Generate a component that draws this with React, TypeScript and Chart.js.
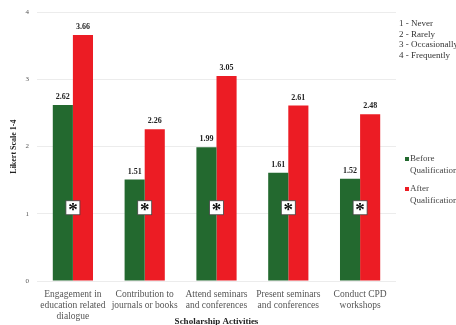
import React, { useEffect, useRef } from "react";
import { Chart, registerables } from "chart.js";

Chart.register(...registerables);

const categories: string[][] = [
  ["Engagement in", "education related", "dialogue"],
  ["Contribution to", "journals or books"],
  ["Attend seminars", "and conferences"],
  ["Present seminars", "and conferences"],
  ["Conduct CPD", "workshops"],
];
const beforeValues = [2.62, 1.51, 1.99, 1.61, 1.52];
const afterValues = [3.66, 2.26, 3.05, 2.61, 2.48];
const scaleNotes = ["1 - Never", "2 - Rarely", "3 - Occasionally", "4 - Frequently"];
const seriesNames = [["Before", "Qualification"], ["After", "Qualification"]];
const markerLevel = 1.09;

const GREEN = "#23692f";
const RED = "#ec1c24";
const SERIF = "'Liberation Serif', 'DejaVu Serif', serif";

const overlay = {
  id: "overlay",
  afterDatasetsDraw(chart: any) {
    const ctx = chart.ctx;
    const x = chart.scales.x;
    const y = chart.scales.y;
    ctx.save();
    // value labels
    ctx.font = `bold 8px ${SERIF}`;
    ctx.fillStyle = "#222";
    ctx.textAlign = "center";
    ctx.textBaseline = "bottom";
    chart.data.datasets.forEach((ds: any, di: number) => {
      const meta = chart.getDatasetMeta(di);
      meta.data.forEach((bar: any, i: number) => {
        ctx.fillText(ds.data[i].toFixed(2), bar.x, bar.y - 4);
      });
    });
    // asterisk boxes
    categories.forEach((_, i) => {
      const cx = x.getPixelForValue(i);
      const cy = y.getPixelForValue(markerLevel);
      ctx.fillStyle = "#ffffff";
      ctx.fillRect(cx - 7, cy - 7, 14, 14);
      ctx.strokeStyle = "#444";
      ctx.lineWidth = 0.8;
      ctx.strokeRect(cx - 7, cy - 7, 14, 14);
      ctx.fillStyle = "#111";
      ctx.font = `bold 19px ${SERIF}`;
      ctx.textAlign = "center";
      ctx.textBaseline = "middle";
      ctx.fillText("*", cx, cy + 3.5);
    });
    // scale notes
    ctx.font = `9px ${SERIF}`;
    ctx.fillStyle = "#333";
    ctx.textAlign = "left";
    ctx.textBaseline = "middle";
    scaleNotes.forEach((t, i) => ctx.fillText(t, 399, 24 + i * 10.5));
    // legend
    const colors = [GREEN, RED];
    seriesNames.forEach((lines, i) => {
      const top = 159 + i * 30;
      ctx.fillStyle = colors[i];
      ctx.fillRect(405, top - 2, 4, 4);
      ctx.fillStyle = "#444";
      ctx.fillText(lines[0], 410, top);
      ctx.fillText(lines[1], 410, top + 12);
    });
    ctx.restore();
  },
};

export default function App() {
  const ref = useRef<HTMLCanvasElement>(null);
  useEffect(() => {
    if (!ref.current) return;
    const chart = new Chart(ref.current, {
      type: "bar",
      data: {
        labels: categories,
        datasets: [
          { label: "Before Qualification", data: beforeValues, backgroundColor: GREEN },
          { label: "After Qualification", data: afterValues, backgroundColor: RED },
        ],
      },
      options: {
        animation: false,
        responsive: false,
        layout: { padding: { top: 9, right: 60, left: 0, bottom: 0 } },
        datasets: { bar: { barPercentage: 1, categoryPercentage: 0.56 } },
        plugins: { legend: { display: false }, tooltip: { enabled: false } },
        scales: {
          x: {
            afterFit: (s: any) => { s.height = 44; },
            grid: { display: false },
            border: { display: false },
            ticks: {
              color: "#555",
              font: { family: SERIF, size: 9.5, lineHeight: 1.17 },
              padding: 0,
              maxRotation: 0,
              autoSkip: false,
            },
            title: {
              display: true,
              text: "Scholarship Activities",
              color: "#222",
              font: { family: SERIF, size: 9, weight: "bold" },
              padding: { top: 0, bottom: -2 },
            },
          },
          y: {
            min: 0,
            max: 4,
            afterFit: (s: any) => { s.width = 37; },
            grid: { color: "#ececec", drawTicks: false, lineWidth: 1 },
            border: { display: false },
            ticks: {
              stepSize: 1,
              color: "#555",
              font: { family: SERIF, size: 7 },
              padding: 8,
            },
            title: {
              display: true,
              text: "Likert Scale 1-4",
              color: "#222",
              font: { family: SERIF, size: 8, weight: "bold" },
              padding: { top: 9, bottom: 0 },
            },
          },
        },
      },
      plugins: [overlay],
    } as any);
    return () => chart.destroy();
  }, []);
  return (
    <div style={{ position: "fixed", left: 0, top: 0, width: 456, height: 325, background: "#fff" }}>
      <canvas ref={ref} width={456} height={325} />
    </div>
  );
}
